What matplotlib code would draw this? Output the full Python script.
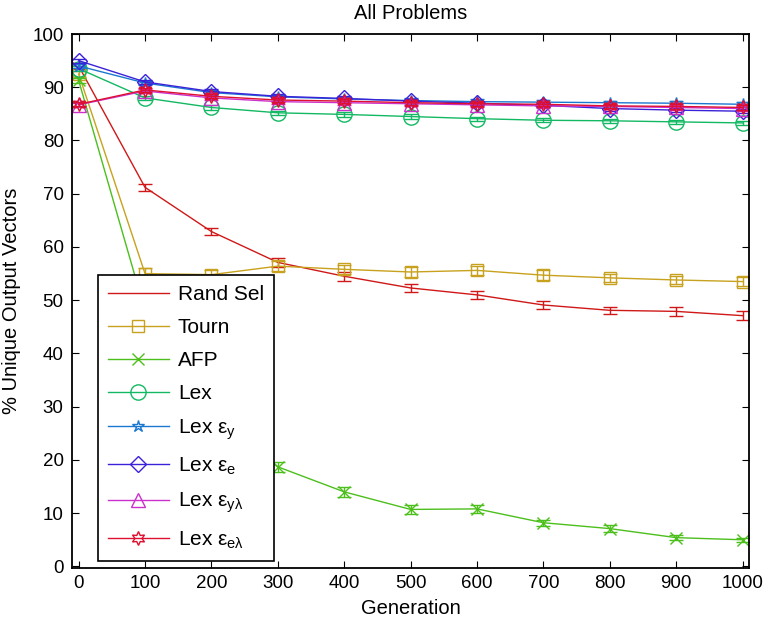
import matplotlib
matplotlib.use("Agg")
import matplotlib.pyplot as plt
import numpy as np

plt.rcParams['font.family'] = ['Liberation Sans', 'DejaVu Sans']
plt.rcParams['mathtext.fontset'] = 'custom'
plt.rcParams['mathtext.rm'] = 'Liberation Sans'
plt.rcParams['mathtext.it'] = 'Liberation Sans'

gens = [0, 100, 200, 300, 400, 500, 600, 700, 800, 900, 1000]

rand_sel = [94.0, 71.2, 62.9, 57.1, 54.5, 52.3, 51.0, 49.1, 48.1, 47.9, 47.1]
rand_err = [0.5, 0.6, 0.7, 0.8, 0.8, 0.8, 0.8, 0.8, 0.7, 0.8, 0.9]
tourn = [92.5, 55.0, 54.8, 56.4, 55.8, 55.3, 55.6, 54.7, 54.2, 53.8, 53.5]
tourn_err = [0.6, 1.0, 0.9, 1.0, 0.9, 0.9, 0.9, 0.9, 0.8, 0.8, 0.8]
afp = [91.3, 48.0, 27.0, 18.7, 14.0, 10.7, 10.8, 8.2, 7.1, 5.4, 5.0]
afp_err = [0.5, 0.8, 0.8, 0.9, 0.9, 0.8, 0.8, 0.6, 0.6, 0.5, 0.4]
lex = [93.5, 88.0, 86.2, 85.2, 84.9, 84.5, 84.1, 83.8, 83.7, 83.5, 83.3]
lex_ey = [94.0, 90.8, 89.0, 88.2, 87.8, 87.5, 87.3, 87.2, 87.1, 87.0, 86.8]
lex_ee = [95.0, 91.0, 89.2, 88.3, 87.9, 87.4, 87.0, 86.6, 86.0, 85.7, 85.5]
lex_eyl = [86.7, 89.3, 88.0, 87.3, 87.1, 86.9, 86.7, 86.5, 86.4, 86.2, 86.0]
lex_eel = [86.8, 89.5, 88.3, 87.6, 87.4, 87.1, 86.9, 86.8, 86.5, 86.4, 86.2]
lex_err = 0.4

labels = ['Rand Sel', 'Tourn', 'AFP', 'Lex', r'Lex $\varepsilon_y$', r'Lex $\varepsilon_e$',
          r'Lex $\varepsilon_{y\lambda}$', r'Lex $\varepsilon_{e\lambda}$']

fig = plt.figure(figsize=(7.7, 6.23), dpi=100)
ax = fig.add_axes([0.0935, 0.0883, 0.8795, 0.8571])

series = [
    (rand_sel, rand_err, '#d01818', None, 8),
    (tourn, tourn_err, '#c8a21e', 's', 9),
    (afp, afp_err, '#4cbf1c', 'x', 8),
    (lex, lex_err, '#12b862', 'o', 11),
    (lex_ey, lex_err, '#1a78d0', '*', 9),
    (lex_ee, lex_err, '#3a22d8', 'D', 8),
    (lex_eyl, lex_err, '#cc30cc', '^', 10),
    (lex_eel, lex_err, '#dd1030', (6, 1, 0), 10),
]

for (vals, err, col, mk, ms), lab in zip(series, labels):
    ax.errorbar(gens, vals, yerr=err, fmt='none', ecolor=col, elinewidth=1,
                capsize=5, capthick=1)
    ax.plot(gens, vals, color=col, lw=1, marker=mk, ms=ms, mfc='none',
            mec=col, mew=1, label=lab)

ax.set_xlim(-10, 1010)
ax.set_ylim(-0.3, 100)
ax.set_xticks(gens)
ax.set_yticks(range(0, 101, 10))
ax.tick_params(labelsize=13.5, direction='in', length=5, top=True, right=True)
ax.tick_params(axis='x', pad=5)
ax.tick_params(axis='y', pad=6)
for s in ax.spines.values():
    s.set_linewidth(1.3)
ax.set_xlabel('Generation', fontsize=14.5)
ax.xaxis.set_label_coords(0.5, -0.058)
ax.set_ylabel('% Unique Output Vectors', fontsize=14.5)
ax.yaxis.set_label_coords(-0.076, 0.5)
ax.set_title('All Problems', fontsize=14.5, pad=11)

leg = ax.legend(loc='lower left', bbox_to_anchor=(0.038, 0.013), borderaxespad=0,
                fontsize=15, handlelength=2.9, handletextpad=0.45, fancybox=False,
                framealpha=1, edgecolor='black', labelspacing=0.67, borderpad=0.5)
leg.get_frame().set_linewidth(1.2)

plt.savefig('out.png', dpi=100)
